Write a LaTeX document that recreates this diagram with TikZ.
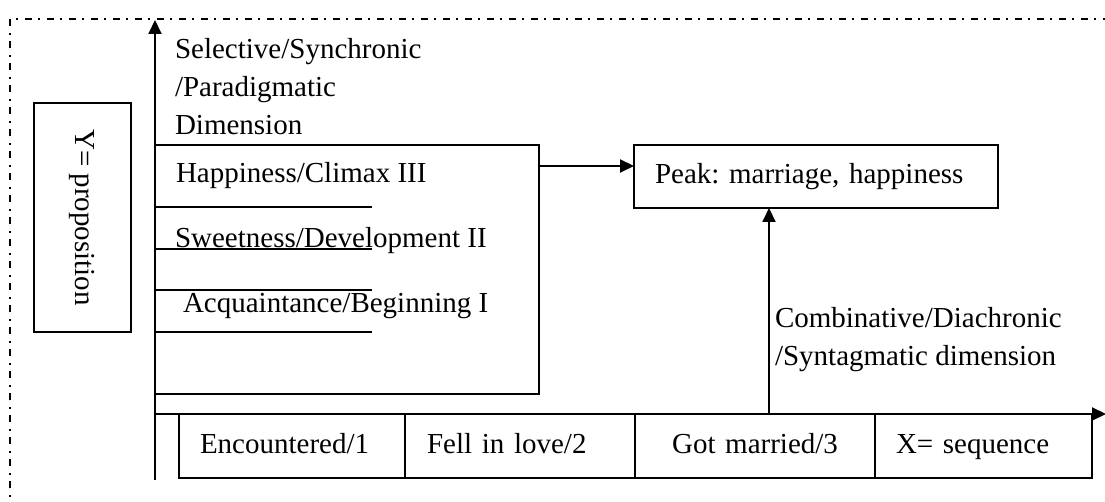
\documentclass[tikz,border=0pt]{standalone}
\usepackage{fontspec}
\setmainfont{Liberation Serif}
\usetikzlibrary{arrows.meta,positioning}
\frenchspacing

\begin{document}
\begin{tikzpicture}[x=1pt,y=-1pt,line width=2pt,
  every node/.style={font=\fontsize{29}{38}\selectfont,inner sep=0pt,outer sep=0pt},
  arr/.style={-{Triangle[length=14pt,width=13pt]}},
  box/.style={draw,text height=20pt,text depth=6pt},
  cell/.style={box,minimum height=64pt,anchor=north west,align=left}]
\useasboundingbox (0,0) rectangle (1105,502);
% ---- dash-dot frame
\draw[line width=1.6pt,dash pattern=on 7pt off 6pt on 2pt off 7pt] (10,510) -- (10,19) -- (1110,19);
% ---- drawing x and y axis
\coordinate (O) at (155,414);
\coordinate (ybot) at (155,480);
\coordinate (ytop) at (155,20);
\coordinate (xend) at (1106,414);
\draw[arr] (ybot) -- (ytop);
\draw[arr] (O) -- (xend);
% ---- y side
\node[box,rotate=-90,minimum width=229pt,minimum height=97pt] (yprop) at (82.5,217.5) {Y= proposition};
\node[anchor=north west,align=left] (seldim) at (175,38) {Selective/Synchronic\\/Paradigmatic\\Dimension};
\node[draw,anchor=north west,minimum width=384pt,minimum height=249pt] (stages) at (155,145) {};
\foreach \y in {207,249,290,332}{
\draw (155,\y) -- (372,\y); % stage lines
}
\node[anchor=base west] (climax) at (176,183) {Happiness/Climax III};
\node[anchor=base west] (devel) at (175,248) {Sweetness/Development II};
\node[anchor=base west] (begin) at (183,313) {Acquaintance/Beginning I};
% ---- peak box and arrows into it
\node[box,align=left,text width=322pt,inner xsep=21pt,minimum height=63pt] (peak) at (816,176.5) {Peak: marriage, happiness};
\coordinate (pin) at ([yshift=10.5pt]peak.west);
\coordinate (pup) at ([xshift=-47pt]peak.south);
\draw[arr] (pin -| stages.east) -- (pin);
\draw[arr] (pup |- O) -- (pup);
\node[anchor=north west,align=left] (combdim) at (775,307) {Combinative/Diachronic\\/Syntagmatic dimension};
% ---- x side: sequence cells
\node[cell,text width=184pt,inner xsep=21pt] (enc) at (179,414) {Encountered/1};
\node[cell,text width=186pt,inner xsep=22pt,right=0pt of enc] (love) {Fell in love/2};
\node[cell,text width=220pt,inner xsep=10pt,align=center,right=0pt of love] (married) {Got married/3};
\node[cell,text width=175pt,inner xsep=21pt,right=0pt of married] (seq) {X= sequence};
\end{tikzpicture}
\end{document}
